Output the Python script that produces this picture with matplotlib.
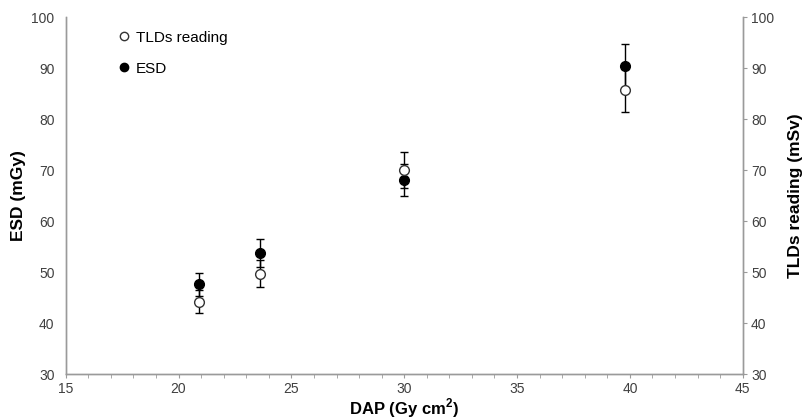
import numpy as np
import matplotlib.pyplot as plt
from matplotlib.lines import Line2D
from matplotlib.ticker import MultipleLocator

plt.rcParams['font.family'] = ['Liberation Sans', 'DejaVu Sans']
plt.rcParams['mathtext.fontset'] = 'custom'
plt.rcParams['mathtext.rm'] = 'Liberation Sans'
plt.rcParams['mathtext.bf'] = 'Liberation Sans:bold'

# data
dap = [20.9, 23.6, 30.0, 39.8]
esd = [47.6, 53.7, 68.0, 90.4]
esd_err = [2.3, 2.8, 3.1, 4.4]
tld = [44.2, 49.7, 70.0, 85.6]
tld_err = [2.2, 2.6, 3.5, 4.2]

gray = '#9a9a9a'
txt = '#404040'

fig = plt.figure(figsize=(8.04, 4.2), dpi=100)
ax = fig.add_axes([0.0817, 0.1095, 0.8421, 0.85])
ax2 = ax.twinx()

ax.errorbar(dap, esd, yerr=esd_err, fmt='o', ms=7, mfc='black', mec='black',
            ecolor='black', elinewidth=1, capsize=3, capthick=1, zorder=3)
ax2.errorbar(dap, tld, yerr=tld_err, fmt='o', ms=7, mfc='white', mec='#333333',
             mew=1, ecolor='black', elinewidth=1, capsize=3, capthick=1, zorder=3)

for a in (ax, ax2):
    a.set_xlim(15, 45)
    a.set_ylim(30, 100)
    a.yaxis.set_major_locator(MultipleLocator(10))
    a.spines['top'].set_visible(False)
    for s in a.spines.values():
        s.set_color(gray)
        s.set_linewidth(1)

ax.xaxis.set_major_locator(MultipleLocator(5))
ax.xaxis.set_minor_locator(MultipleLocator(1))
ax.tick_params(axis='x', which='both', direction='out', length=3, color=gray,
               labelsize=10, labelcolor=txt, pad=3)
ax.tick_params(axis='y', length=0, labelsize=10, labelcolor=txt, pad=8)
ax2.tick_params(axis='y', direction='out', length=3, color=gray,
                labelsize=10, labelcolor=txt, pad=3)

ax.set_xlabel('DAP (Gy cm$^{\\mathbf{2}}$)', fontsize=12, fontweight='bold', labelpad=0)
ax.set_ylabel('ESD (mGy)', fontsize=12.5, fontweight='bold', labelpad=4)
ax2.set_ylabel('TLDs reading (mSv)', fontsize=12.5, fontweight='bold', labelpad=10)

handles = [Line2D([], [], ls='none', marker='o', ms=6, mfc='white', mec='#333333'),
           Line2D([], [], ls='none', marker='o', ms=6, mfc='black', mec='black')]
ax2.legend(handles, ['TLDs reading', 'ESD'], loc='upper left',
           bbox_to_anchor=(0.052, 1.0), frameon=False, fontsize=11,
           labelspacing=1.1, handletextpad=0.2, handlelength=1.2)

fig.savefig('out.png', dpi=100)
